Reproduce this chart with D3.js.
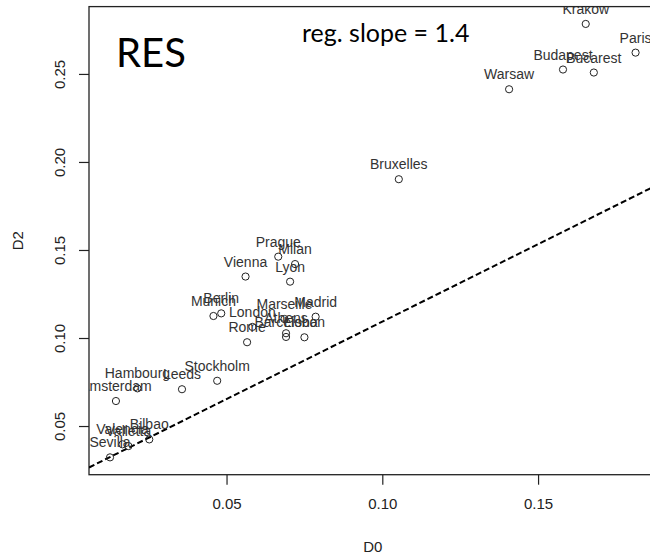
<!DOCTYPE html>
<html>
<head>
<meta charset="utf-8">
<title>RES</title>
<script src="https://d3js.org/d3.v7.min.js" charset="utf-8"></script>
<style>
body { margin: 0; background: #fff; }
text { font-family: "Liberation Sans", Arial, sans-serif; }
.axis path { display: none; }
.axis line { stroke: #222; stroke-width: 1.2; }
.axis text { font-size: 15px; fill: #222; }
</style>
</head>
<body>
<script>
// city names, D0 (x) and D2 (y)
var cities = ["Krakow", "Paris", "Budapest", "Bucarest", "Warsaw", "Bruxelles",
  "Prague", "Milan", "Vienna", "Lyon", "Berlin", "Munich", "London", "Marseille",
  "Madrid", "Athens", "Barcelona", "Lisbon", "Rome", "Stockholm", "Hambourg",
  "Leeds", "Amsterdam", "Bilbao", "Valencia", "Valletta", "Sevilla"];
var d0 = [0.1653, 0.1813, 0.1580, 0.1679, 0.1407, 0.1053,
  0.0666, 0.0720, 0.0561, 0.0704, 0.0483, 0.0458, 0.0583, 0.0686,
  0.0786, 0.0691, 0.0691, 0.0750, 0.0566, 0.0470, 0.0214,
  0.0357, 0.0145, 0.0252, 0.0166, 0.0185, 0.0126];
var d2 = [0.2784, 0.2621, 0.2525, 0.2508, 0.2413, 0.1902,
  0.1462, 0.1420, 0.1349, 0.1320, 0.1140, 0.1125, 0.1063, 0.1108,
  0.1121, 0.1027, 0.1006, 0.1004, 0.0976, 0.0757, 0.0714,
  0.0709, 0.0642, 0.0424, 0.0396, 0.0386, 0.0322];
var xTicks = [0.05, 0.10, 0.15];
var yTicks = [0.05, 0.10, 0.15, 0.20, 0.25];
// dashed reference line
var lineIntercept = 0.0213, lineSlope = 0.880;

var margin = {top: 6.6, left: 89},
  w = 567.6,
  h = 468.1;

var data = cities.map(function(c, i) { return {city: c, x: d0[i], y: d2[i]}; });

// R style axis range: data range padded by 4% each side
function pad(ext) {
  var r = ext[1] - ext[0];
  return [ext[0] - 0.04 * r, ext[1] + 0.04 * r];
}
var x = d3.scaleLinear().domain(pad(d3.extent(d0))).range([0, w]);
var y = d3.scaleLinear().domain(pad(d3.extent(d2))).range([h, 0]);

var svg = d3.select("body").append("svg")
  .attr("width", 650).attr("height", 559)
  .append("g")
  .attr("transform", "translate(" + margin.left + "," + margin.top + ")");

svg.append("defs").append("clipPath").attr("id", "plotclip")
  .append("rect").attr("width", w).attr("height", h);

var xAxis = d3.axisBottom(x).tickValues(xTicks).tickSize(10).tickPadding(14)
  .tickFormat(d3.format(".2f"));
var yAxis = d3.axisLeft(y).tickValues(yTicks).tickSize(10)
  .tickFormat(d3.format(".2f"));

svg.append("g").attr("class", "x axis")
  .attr("transform", "translate(0," + h + ")").call(xAxis);
var gy = svg.append("g").attr("class", "y axis").call(yAxis);
gy.selectAll("text")
  .attr("x", null).attr("dy", null)
  .attr("transform", "translate(-30,0) rotate(-90)")
  .attr("text-anchor", "middle")
  .attr("dominant-baseline", "central");

svg.append("rect").attr("width", w).attr("height", h)
  .attr("fill", "none").attr("stroke", "#222").attr("stroke-width", 1.3);

var plot = svg.append("g").attr("clip-path", "url(#plotclip)");

var xd = x.domain();
plot.append("line")
  .attr("x1", x(xd[0])).attr("y1", y(lineIntercept + lineSlope * xd[0]))
  .attr("x2", x(xd[1])).attr("y2", y(lineIntercept + lineSlope * xd[1]))
  .attr("stroke", "#000").attr("stroke-width", 2)
  .attr("stroke-dasharray", "6,3");

plot.selectAll(".pt")
  .data(data)
  .enter().append("circle")
  .attr("class", "pt")
  .attr("cx", function(d) { return x(d.x); })
  .attr("cy", function(d) { return y(d.y); })
  .attr("r", 3.6)
  .attr("fill", "none").attr("stroke", "#222").attr("stroke-width", 1);

plot.selectAll(".lab")
  .data(data)
  .enter().append("text")
  .attr("class", "lab")
  .attr("x", function(d) { return x(d.x); })
  .attr("y", function(d) { return y(d.y) - 10; })
  .attr("text-anchor", "middle")
  .style("font-size", "14px")
  .attr("fill", "#333")
  .text(function(d) { return d.city; });

// axis titles
svg.append("text").attr("x", w / 2).attr("y", 547 - margin.top)
  .attr("text-anchor", "middle").attr("dominant-baseline", "central")
  .style("font-size", "15px").attr("fill", "#222").text("D0");
svg.append("text")
  .attr("transform", "translate(" + (17.5 - margin.left) + "," + (h / 2) + ") rotate(-90)")
  .attr("text-anchor", "middle").attr("dominant-baseline", "central")
  .style("font-size", "15px").attr("fill", "#222").text("D2");

// overlay annotations
svg.append("text").attr("x", 116 - margin.left).attr("y", 67 - margin.top)
  .style("font-family", "Lato, sans-serif").style("font-size", "40px")
  .attr("fill", "#000").text("RES");
svg.append("text").attr("x", 302 - margin.left).attr("y", 41.7 - margin.top)
  .style("font-family", "Lato, sans-serif").style("font-size", "25px")
  .attr("fill", "#000").text("reg. slope = 1.4");
</script>
</body>
</html>
